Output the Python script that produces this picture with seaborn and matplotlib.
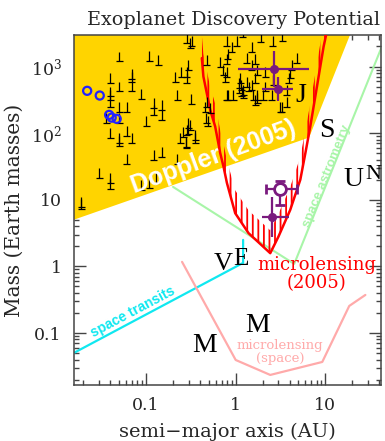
import matplotlib
matplotlib.use('Agg')
import matplotlib.pyplot as plt
from matplotlib.path import Path
import seaborn as sns

# known planets: semi-major axis (AU) and minimum mass (Earth masses)
planet_a = [0.050, 0.109, 0.137, 0.040, 0.050, 0.069, 0.069, 0.069, 0.088, 0.211,
            0.246, 0.285, 0.297, 0.224, 0.320, 0.040, 0.040, 0.040, 0.061, 0.121,
            0.121, 0.150, 0.150, 0.100, 0.050, 0.036, 0.050, 0.297, 0.285, 0.310,
            0.040, 0.050, 0.050, 0.061, 0.069, 0.297, 0.240, 0.280, 0.280, 0.353,
            0.061, 0.121, 0.150, 0.224, 0.030, 0.040, 0.040, 0.088, 0.109, 0.129,
            0.019, 0.019, 0.285, 0.476, 0.671, 0.797, 0.820, 1.33, 1.65, 0.725,
            0.797, 0.763, 1.12, 1.09, 1.21, 1.17, 1.21, 0.797, 1.39, 1.33,
            1.65, 1.73, 1.65, 2.54, 3.28, 3.73, 3.89, 4.06, 4.20, 0.456,
            0.476, 0.519, 0.285, 0.310, 0.261, 0.353, 0.324, 0.940, 0.820, 1.52,
            1.57, 1.73, 2.03, 2.14, 2.62, 3.14, 3.73, 4.83, 1.52, 1.73,
            2.14, 0.908, 0.797, 1.03, 1.52, 1.90, 2.60, 3.30, 1.20, 0.49,
            0.47, 1.10, 1.15]
planet_m = [1190, 1230, 1060, 575, 422, 653, 596, 422, 327, 596,
            708, 575, 890, 316, 275, 355, 316, 251, 211, 237,
            188, 224, 158, 126, 211, 141, 141, 119, 2245, 1900,
            84, 71, 65, 91, 72, 98, 71, 63, 60, 72,
            34, 39, 44, 34, 21, 18, 14.5, 14, 15, 18,
            7.9, 7.2, 708, 1060, 1000, 1100, 1290, 1125, 1100, 750,
            708, 596, 563, 403, 376, 355, 336, 316, 422, 501,
            563, 282, 266, 316, 211, 376, 563, 670, 890, 211,
            251, 199, 94, 112, 87, 79, 2000, 316, 316, 447,
            316, 316, 316, 422, 531, 211, 251, 1125, 892, 750,
            708, 1680, 2000, 2000, 1680, 2300, 2000, 2400, 2800, 126,
            140, 480, 440]

# transiting planets (blue circles)
transit_a = [0.022, 0.0304, 0.0387, 0.0413, 0.047]
transit_m = [432, 367, 188, 171, 164]

# microlensing planets (purple) with ranges
lens_a = [2.65, 2.95, 3.14, 2.54]
lens_m = [914, 458, 14.4, 5.5]
lens_a_lo = [1.07, 1.96, 2.18, 1.96]
lens_a_hi = [6.5, 4.4, 4.8, 3.97]
lens_m_lo = [500, 299, 8.4, 2.75]
lens_m_hi = [1700, 708, 19.4, 11.0]
lens_open = [False, False, True, False]

# Doppler (2005) sensitivity region
doppler_a = [0.0155, 6.6, 27, 0.0155]
doppler_m = [5.0, 86, 10000, 10000]

# microlensing (2005) sensitivity curve
ml_a = [0.419, 0.436, 0.519, 0.590, 0.671, 0.731, 0.798, 0.987, 1.39, 2.43,
        3.0, 4.06, 5.26, 5.99, 6.8, 8.07, 9.58, 10.5]
ml_m = [1337, 708, 224, 126, 50.6, 31.5, 17.9, 6.3, 3.16, 1.58,
        2.8, 7.05, 20, 50, 126, 501, 2000, 3550]

# space microlensing
sml_a = [0.252, 1.0, 2.43, 9.25, 18.5, 28]
sml_m = [1.17, 0.0394, 0.0235, 0.0368, 0.255, 0.373]

# space transits
st_a = [0.0155, 1.21, 1.21]
st_m = [0.050, 1.13, 2.5]

# space astrometry
sa_a = [0.2, 4.5, 53]
sa_m = [15.6, 1.09, 4080]

# solar system planets
ss_names = ['M', 'M', 'V', 'E', 'J', 'S', 'U', 'N']
ss_a = [0.445, 1.77, 0.72, 1.15, 5.32, 10.4, 20.7, 34.7]
ss_m = [0.065, 0.128, 1.09, 1.28, 363, 109, 20, 23.7]
ss_size = [20, 20, 19, 18, 20, 20, 20, 16]

sns.set_theme(style='ticks')
plt.rcParams['font.family'] = ['DejaVu Serif']
plt.rcParams['mathtext.fontset'] = 'dejavuserif'
plt.rcParams['hatch.linewidth'] = 1.3
plt.rcParams['hatch.color'] = 'red'

purple = '#7a1a7e'

fig = plt.figure(figsize=(3.85, 4.41), dpi=100)
ax = fig.add_axes([0.191, 0.127, 0.799, 0.794])
ax.set_xscale('log')
ax.set_yscale('log')

ax.fill(doppler_a, doppler_m, color='#ffd400', lw=0, zorder=1)

sns.lineplot(x=sa_a, y=sa_m, sort=False, estimator=None, color='#a8f5a8', lw=1.5, ax=ax, zorder=2)
sns.lineplot(x=st_a, y=st_m, sort=False, estimator=None, color='#10e8f0', lw=1.6, ax=ax, zorder=2)
sns.lineplot(x=sml_a, y=sml_m, sort=False, estimator=None, color='#ffaaaa', lw=1.6, ax=ax, zorder=2)

# hatched band on the inner side of the microlensing curve
ax.fill_between(ml_a, ml_m, [m * 2.2 for m in ml_m], facecolor='none',
                edgecolor='red', hatch='|||', linewidth=0, zorder=3)
sns.lineplot(x=ml_a, y=ml_m, sort=False, estimator=None, color='red', lw=1.8, ax=ax, zorder=3)

perp = Path([(-0.35, 0), (0.35, 0), (0, 0), (0, 1)],
            [Path.MOVETO, Path.LINETO, Path.MOVETO, Path.LINETO])
sns.scatterplot(x=planet_a, y=planet_m, marker=perp, s=207, facecolor='none',
                edgecolor='black', linewidth=0.9, ax=ax, zorder=4)

sns.scatterplot(x=transit_a, y=transit_m, marker='o', s=34, facecolor='none',
                edgecolor='#2222ff', linewidth=1.6, ax=ax, zorder=5)

for a, m, alo, ahi, mlo, mhi, op in zip(lens_a, lens_m, lens_a_lo, lens_a_hi,
                                         lens_m_lo, lens_m_hi, lens_open):
    ax.errorbar([a], [m], xerr=[[a - alo], [ahi - a]], yerr=[[m - mlo], [mhi - m]],
                fmt='o', color=purple, ms=8.5 if op else 5.5,
                mfc='white' if op else purple, mew=2 if op else 1,
                elinewidth=1.6, capsize=3.5 if op else 0, capthick=1.6, zorder=6)

for name, a, m, fs in zip(ss_names, ss_a, ss_m, ss_size):
    ax.text(a, m, name, fontsize=fs, family='Liberation Serif', ha='center',
            va='center', color='black', zorder=7)

ax.text(0.56, 44, 'Doppler (2005)', fontsize=18, family='Liberation Sans',
        weight='bold', color='white', rotation=20, rotation_mode='anchor',
        ha='center', va='center', zorder=7)
ax.text(7.94, 0.77, 'microlensing\n(2005)', fontsize=13, color='red',
        ha='center', va='center', linespacing=0.95, zorder=7)
ax.text(3.14, 0.052, 'microlensing\n(space)', fontsize=9.5, color='#ffaaaa',
        ha='center', va='center', linespacing=0.95, zorder=7)
ax.text(0.0716, 0.207, 'space transits', fontsize=10, family='Liberation Sans',
        weight='bold', color='#10e8f0', rotation=28, rotation_mode='anchor',
        ha='center', va='center', zorder=7)
ax.text(10.3, 22.9, 'space astrometry', fontsize=9.5, family='Liberation Sans',
        weight='bold', color='#a8f5a8', rotation=68, rotation_mode='anchor',
        ha='center', va='center', zorder=7)

ax.set_xlim(0.0155, 42)
ax.set_ylim(0.0166, 2990)
ax.set_xticks([0.1, 1, 10])
ax.set_xticklabels(['0.1', '1', '10'])
ax.set_yticks([0.1, 1, 10, 100, 1000])
ax.set_yticklabels(['0.1', '1', '10', r'$10^2$', r'$10^3$'])
ax.tick_params(which='both', direction='in', top=True, right=True,
               color='#444444', labelsize=12.5, pad=8.5)
ax.tick_params(which='major', length=8.6, width=1)
ax.tick_params(which='minor', length=3.6, width=1)
for sp in ax.spines.values():
    sp.set_color('#444444')
    sp.set_linewidth(1.1)

ax.set_xlabel('semi\u2212major axis (AU)', fontsize=14)
ax.set_ylabel('Mass (Earth masses)', fontsize=14.5)
ax.xaxis.set_label_coords(0.5, -0.108)
ax.yaxis.set_label_coords(-0.161, 0.5)
ax.set_title('Exoplanet Discovery Potential', fontsize=13.8, x=0.519, pad=7)

fig.savefig('out.png', dpi=100)
